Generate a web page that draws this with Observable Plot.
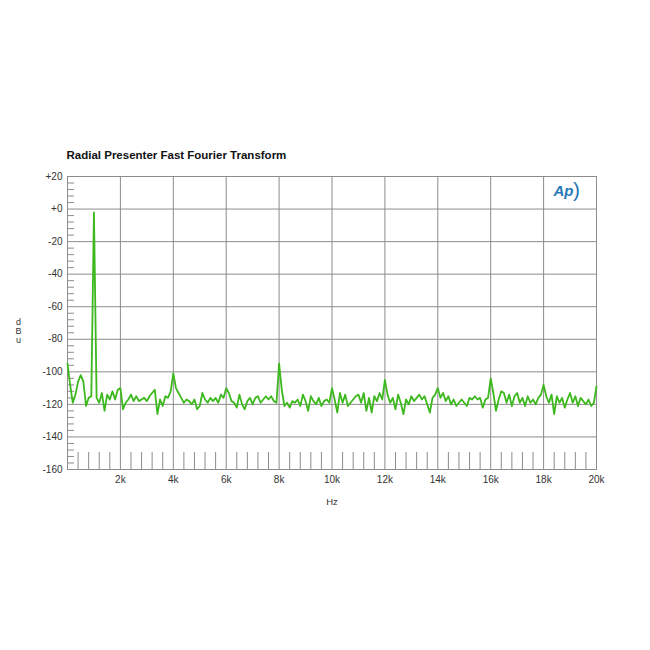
<!DOCTYPE html>
<html>
<head>
<meta charset="utf-8">
<script src="https://cdn.jsdelivr.net/npm/d3@7"></script>
<script src="https://cdn.jsdelivr.net/npm/@observablehq/plot@0.6"></script>
<style>
  html, body { margin: 0; padding: 0; background: #fff; }
  #chart svg { display: block; }
</style>
</head>
<body>
<div id="chart"></div>
<script>
const title = "Radial Presenter Fast Fourier Transform";
const xLabel = "Hz";
const yLabel = "d\nB\nu";

const xTicks = [2000, 4000, 6000, 8000, 10000, 12000, 14000, 16000, 18000, 20000];
const xTickLabels = ["2k", "4k", "6k", "8k", "10k", "12k", "14k", "16k", "18k", "20k"];
const yTicks = [20, 0, -20, -40, -60, -80, -100, -120, -140, -160];
const yTickLabels = ["+20", "+0", "-20", "-40", "-60", "-80", "-100", "-120", "-140", "-160"];

// FFT bins every 100 Hz, 0 .. 20 kHz (dBu)
const binStepHz = 100;
const levelDbu = [
  -95, -108, -119, -114, -106, -102, -106, -121, -116, -115,
  -2, -116, -119, -113, -124, -114, -117, -112, -117, -111,
  -110, -123, -119, -117, -114, -118, -115, -118, -117, -116,
  -118, -115, -113, -111, -126, -117, -121, -115, -116, -112,
  -101, -110, -113, -116, -119, -117, -118, -120, -117, -123,
  -121, -113, -117, -119, -116, -118, -116, -119, -114, -116,
  -110, -113, -118, -119, -122, -114, -120, -123, -118, -116,
  -120, -116, -115, -119, -117, -115, -117, -115, -118, -119,
  -95, -111, -121, -119, -122, -118, -119, -117, -121, -114,
  -118, -124, -115, -118, -120, -116, -121, -118, -117, -119,
  -110, -117, -125, -113, -119, -114, -121, -119, -117, -115,
  -114, -119, -113, -124, -116, -125, -115, -118, -113, -117,
  -105, -114, -119, -116, -123, -114, -119, -126, -117, -120,
  -115, -118, -116, -114, -117, -115, -120, -125, -116, -114,
  -110, -116, -113, -118, -115, -120, -117, -121, -119, -117,
  -119, -121, -116, -117, -115, -117, -116, -122, -117, -116,
  -104, -113, -124, -117, -112, -113, -119, -114, -121, -115,
  -113, -119, -116, -121, -115, -119, -117, -120, -116, -114,
  -108, -115, -119, -114, -126, -115, -119, -116, -122, -117,
  -113, -119, -115, -121, -116, -118, -120, -117, -121, -119,
  -109
];

const xMinor = [400, 800, 1200, 1600, 2400, 2800, 3200, 3600, 4400, 4800, 5200, 5600,
  6400, 6800, 7200, 7600, 8400, 8800, 9200, 9600, 10400, 10800, 11200, 11600,
  12400, 12800, 13200, 13600, 14400, 14800, 15200, 15600, 16400, 16800, 17200, 17600,
  18400, 18800, 19200, 19600];
const yMinor = [16, 12, 8, 4, -4, -8, -12, -16, -24, -28, -32, -36, -44, -48, -52, -56,
  -64, -68, -72, -76, -84, -88, -92, -96, -104, -108, -112, -116, -124, -128, -132, -136,
  -144, -148, -152, -156];

const data = levelDbu.map((v, i) => ({f: i * binStepHz, db: v}));
const xFmt = new Map(xTicks.map((d, i) => [d, xTickLabels[i]]));
const yFmt = new Map(yTicks.map((d, i) => [d, yTickLabels[i]]));

const W = 650, H = 650, mL = 67, mR = 54, mT = 176, mB = 181;
const frameW = W - mL - mR, frameH = H - mT - mB;
const gridColor = "#8c8c8c";

const chart = Plot.plot({
  width: W, height: H,
  marginLeft: mL, marginRight: mR, marginTop: mT, marginBottom: mB,
  x: {domain: [0, 20000]},
  y: {domain: [-160, 20]},
  style: {fontFamily: "'Liberation Sans', Arial, sans-serif", fontSize: "10px", color: "#333", background: "#fff"},
  marks: [
    Plot.gridX(xTicks, {stroke: gridColor, strokeOpacity: 1, strokeWidth: 1}),
    Plot.gridY(yTicks, {stroke: gridColor, strokeOpacity: 1, strokeWidth: 1}),
    Plot.tickX(xMinor, {x: d => d, insetTop: frameH - 17, stroke: gridColor, strokeWidth: 1}),
    Plot.tickY(yMinor, {y: d => d, insetRight: frameW - 7, stroke: gridColor, strokeWidth: 1}),
    Plot.frame({stroke: gridColor, strokeWidth: 1}),
    Plot.axisX(xTicks, {tickSize: 0, tickPadding: 6, tickFormat: d => xFmt.get(d), label: null, fill: "#333"}),
    Plot.axisY(yTicks, {tickSize: 0, tickPadding: 5, tickFormat: d => yFmt.get(d), label: null, fill: "#333"}),
    Plot.line(data, {x: "f", y: "db", stroke: "#3db81e", strokeWidth: 1.8, strokeLinejoin: "round"}),
    Plot.text([title], {frameAnchor: "top-left", dx: -1, dy: -21, textAnchor: "start", lineAnchor: "middle", fontWeight: "bold", fontSize: 11.5, fill: "#111"}),
    Plot.text([xLabel], {frameAnchor: "bottom", dy: 32, lineAnchor: "middle", fontSize: 9.5, fill: "#333"}),
    Plot.text([yLabel], {frameAnchor: "left", dx: -49, dy: 8.5, textAnchor: "middle", lineAnchor: "middle", fontSize: 9, lineHeight: 1, fill: "#333"}),
    Plot.text(["Ap"], {frameAnchor: "top-right", dx: -33, dy: 15, textAnchor: "middle", lineAnchor: "middle", fontSize: 15, fontWeight: "bold", fontStyle: "italic", fill: "#2878b8"}),
    Plot.text([")"], {frameAnchor: "top-right", dx: -20, dy: 14, textAnchor: "middle", lineAnchor: "middle", fontSize: 21, fill: "#2878b8"})
  ]
});
document.getElementById("chart").appendChild(chart);
</script>
</body>
</html>
